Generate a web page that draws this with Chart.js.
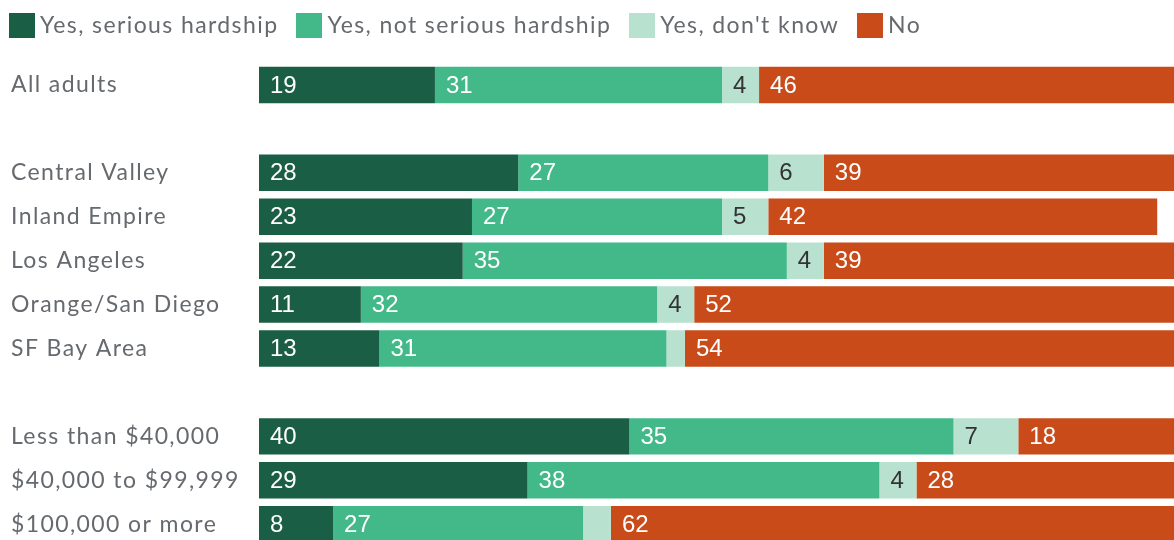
<!DOCTYPE html>
<html>
<head>
<meta charset="utf-8">
<script src="https://cdn.jsdelivr.net/npm/chart.js@4.4.1/dist/chart.umd.min.js"></script>
<style>
  html, body { margin: 0; padding: 0; background: #fff; overflow: hidden; width: 1174px; height: 540px; }
  #wrap { position: relative; width: 1174px; height: 540px; overflow: hidden; }
  #c { position: absolute; left: 0; top: 0; }
  #legend { position: absolute; left: 9px; top: 13px; display: flex; align-items: center;
            font-family: Lato, "Noto Sans", sans-serif; font-size: 23px; line-height: 25px; letter-spacing: 1.4px;
            color: #666a6e; white-space: nowrap; }
  .item { display: flex; align-items: center; margin-right: 18px; }
  .box { width: 26px; height: 25px; margin-right: 5px; }
  .item span { position: relative; top: -1.5px; }
</style>
</head>
<body>
<div id="wrap">
  <canvas id="c" width="1185" height="560"></canvas>
  <div id="legend"></div>
</div>
<script>
const categories = ["All adults", "", "Central Valley", "Inland Empire", "Los Angeles", "Orange/San Diego", "SF Bay Area", "", "Less than $40,000", "$40,000 to $99,999", "$100,000 or more"];
const seriesNames = ["Yes, serious hardship", "Yes, not serious hardship", "Yes, don't know", "No"];
const seriousHardship = [19, null, 28, 23, 22, 11, 13, null, 40, 29, 8];
const notSeriousHardship = [31, null, 27, 27, 35, 32, 31, null, 35, 38, 27];
const dontKnow = [4, null, 6, 5, 4, 4, 2, null, 7, 4, 3];
const no = [46, null, 39, 42, 39, 52, 54, null, 18, 28, 62];
const colors = ["#1b5e46", "#43b98a", "#b8e2cf", "#c94b1a"];
const labelColors = ["#ffffff", "#ffffff", "#333333", "#ffffff"];

const seriesValues = [seriousHardship, notSeriousHardship, dontKnow, no];

// HTML legend
const legendEl = document.getElementById('legend');
seriesNames.forEach((name, i) => {
  const it = document.createElement('div');
  it.className = 'item';
  const b = document.createElement('div');
  b.className = 'box';
  b.style.background = colors[i];
  const t = document.createElement('span');
  t.textContent = name;
  it.appendChild(b); it.appendChild(t);
  legendEl.appendChild(it);
});

const spacing = {
  id: 'spacing',
  beforeDraw(chart) { chart.ctx.letterSpacing = '1.4px'; },
  beforeDatasetsDraw(chart) { chart.ctx.letterSpacing = '0px'; }
};

const valueLabels = {
  id: 'valueLabels',
  afterDatasetsDraw(chart) {
    const ctx = chart.ctx;
    ctx.save();
    ctx.letterSpacing = '0px';
    ctx.font = '24px "Liberation Sans", Arial, sans-serif';
    ctx.textBaseline = 'middle';
    ctx.textAlign = 'left';
    chart.data.datasets.forEach((ds, di) => {
      const meta = chart.getDatasetMeta(di);
      meta.data.forEach((el, i) => {
        const v = ds.data[i];
        if (v == null || v < 4) return;
        ctx.fillStyle = labelColors[di];
        const left = Math.min(el.x, el.base);
        ctx.fillText(String(v), left + 11, el.y + 1);
      });
    });
    ctx.restore();
  }
};

new Chart(document.getElementById('c'), {
  type: 'bar',
  data: {
    labels: categories,
    datasets: seriesValues.map((vals, i) => ({
      label: seriesNames[i],
      data: vals,
      backgroundColor: colors[i],
      borderWidth: 0,
      barPercentage: 0.83,
      categoryPercentage: 1.0
    }))
  },
  options: {
    indexAxis: 'y',
    responsive: false,
    animation: false,
    devicePixelRatio: 1,
    layout: { padding: { top: 63, left: 11, right: 0, bottom: 13 } },
    plugins: {
      legend: { display: false },
      tooltip: { enabled: false }
    },
    scales: {
      x: { stacked: true, min: 0, max: 100, display: false },
      y: {
        stacked: true,
        grid: { display: false },
        border: { display: false },
        ticks: {
          crossAlign: 'far',
          padding: 0,
          color: '#666a6e',
          font: { family: 'Lato, "Noto Sans", sans-serif', size: 23 }
        },
        afterFit(scale) { scale.width = 248; }
      }
    }
  },
  plugins: [spacing, valueLabels]
});
</script>
</body>
</html>
